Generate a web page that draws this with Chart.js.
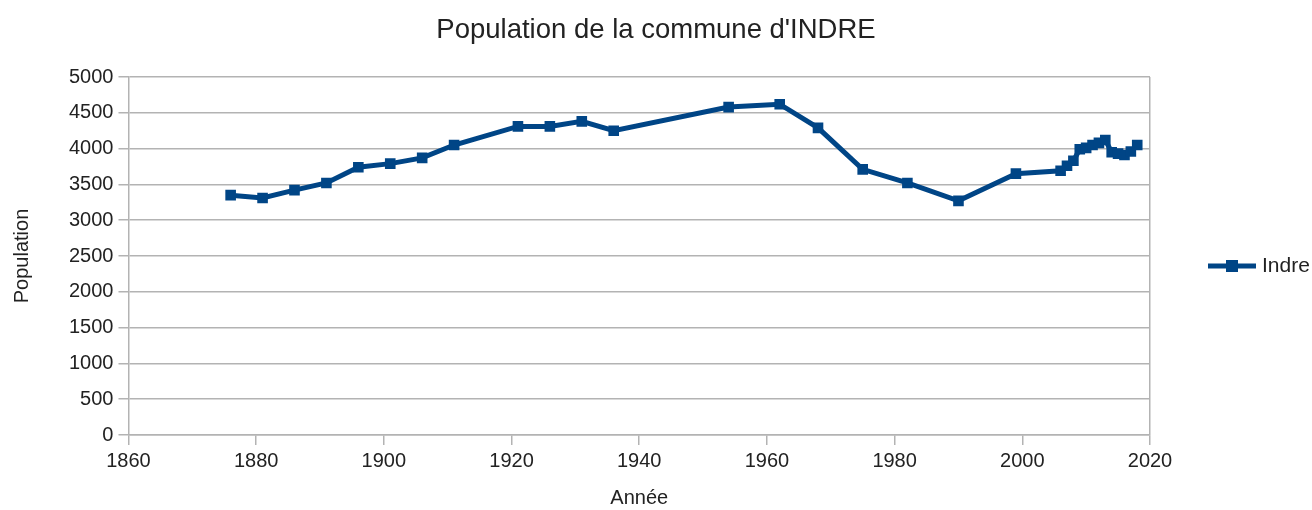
<!DOCTYPE html>
<html>
<head>
<meta charset="utf-8">
<script src="https://cdn.jsdelivr.net/npm/chart.js@4/dist/chart.umd.min.js"></script>
<style>
  html, body { margin: 0; padding: 0; background: #fff; }
  #wrap { width: 1312px; height: 510px; }
</style>
</head>
<body>
<div id="wrap"><canvas id="c" width="1312" height="510"></canvas></div>
<script>
/* ─── Données : recensements de la commune ─── */
const years = [1876, 1881, 1886, 1891, 1896, 1901, 1906, 1911, 1921, 1926, 1931, 1936,
  1954, 1962, 1968, 1975, 1982, 1990, 1999, 2006, 2007, 2008, 2009, 2010, 2011,
  2012, 2013, 2014, 2015, 2016, 2017, 2018];
const population = [3350, 3310, 3420, 3520, 3740, 3790, 3870, 4050, 4310, 4310, 4380, 4250,
  4580, 4620, 4290, 3710, 3520, 3270, 3650, 3690, 3760, 3830, 3990, 4010, 4050,
  4080, 4120, 3950, 3930, 3910, 3960, 4050];
const xTicks = [1860, 1880, 1900, 1920, 1940, 1960, 1980, 2000, 2020];
const yTicks = [0, 500, 1000, 1500, 2000, 2500, 3000, 3500, 4000, 4500, 5000];

const BLUE = '#004586';
const GRID = '#b3b3b3';
const TXT = '#222';
const FONT = "'Liberation Sans', Arial, sans-serif";

/* Légende à droite : trait + carré, comme dans le tableur */
const sideLegend = {
  id: 'sideLegend',
  afterDraw(chart) {
    const { ctx, chartArea } = chart;
    const y = (chartArea.top + chartArea.bottom) / 2 + 10;
    const x0 = 1208;
    ctx.save();
    ctx.strokeStyle = BLUE;
    ctx.lineWidth = 5;
    ctx.beginPath();
    ctx.moveTo(x0, y);
    ctx.lineTo(x0 + 48, y);
    ctx.stroke();
    ctx.fillStyle = BLUE;
    ctx.fillRect(x0 + 18, y - 6, 12, 12);
    ctx.fillStyle = TXT;
    ctx.font = `21px ${FONT}`;
    ctx.textBaseline = 'middle';
    ctx.fillText(chart.data.datasets[0].label, x0 + 54, y);
    ctx.restore();
  },
};

new Chart(document.getElementById('c').getContext('2d'), {
  type: 'line',
  data: {
    datasets: [{
      label: 'Indre',
      data: years.map((y, i) => ({ x: y, y: population[i] })),
      borderColor: BLUE, backgroundColor: BLUE,
      borderWidth: 5, tension: 0,
      pointStyle: 'rect', pointRadius: 7.5, pointBorderWidth: 0,
      pointBackgroundColor: BLUE,
    }],
  },
  options: {
    responsive: false, animation: false,
    layout: { padding: 0 },
    plugins: {
      legend: { display: false },
      tooltip: { enabled: false },
      title: {
        display: true, text: "Population de la commune d'INDRE",
        color: TXT, font: { family: FONT, size: 27.5, weight: 'normal' },
        padding: { top: 14, bottom: 30 },
      },
    },
    scales: {
      x: {
        type: 'linear', min: 1860, max: 2020,
        afterBuildTicks: s => { s.ticks = xTicks.map(v => ({ value: v })); },
        ticks: { color: TXT, font: { family: FONT, size: 20 }, padding: 4, callback: v => String(v) },
        grid: {
          color: c => (c.tick && c.tick.value === 2020 ? GRID : 'transparent'),
          tickColor: GRID, tickLength: 10, lineWidth: 1.5,
        },
        border: { color: GRID, width: 1.5 },
        title: {
          display: true, text: 'Année', color: TXT,
          font: { family: FONT, size: 20 }, padding: { top: 9, bottom: 0 },
        },
      },
      y: {
        min: 0, max: 5000,
        afterBuildTicks: s => { s.ticks = yTicks.map(v => ({ value: v })); },
        ticks: { color: TXT, font: { family: FONT, size: 20 }, padding: 5, callback: v => String(v) },
        grid: { color: GRID, tickColor: GRID, tickLength: 10, lineWidth: 1.5 },
        border: { color: GRID, width: 1.5 },
        title: {
          display: true, text: 'Population', color: TXT,
          font: { family: FONT, size: 20 }, padding: { top: 10, bottom: 30 },
        },
      },
      /* axe vide à droite : réserve la place de la légende */
      side: {
        position: 'right', min: 0, max: 1,
        ticks: { display: false },
        grid: { drawOnChartArea: false, drawTicks: false },
        border: { display: false },
        afterFit: s => { s.width = 162; },
      },
    },
  },
  plugins: [sideLegend],
});
</script>
</body>
</html>
